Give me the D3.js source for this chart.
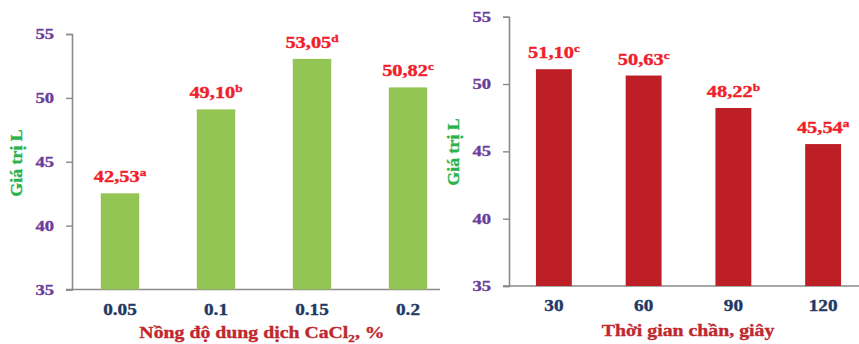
<!DOCTYPE html>
<html>
<head>
<meta charset="utf-8">
<script src="https://cdn.jsdelivr.net/npm/d3@7"></script>
<style>
  html, body { margin: 0; padding: 0; background: #fff; }
</style>
</head>
<body>
<svg id="chart" width="859" height="344"></svg>
<script>
// Panel 1: CaCl2 concentration
const concCategories = ["0.05", "0.1", "0.15", "0.2"];
const concValues = [42.53, 49.10, 53.05, 50.82];
const concLetters = ["a", "b", "d", "c"];

// Panel 2: blanching time
const timeCategories = ["30", "60", "90", "120"];
const timeValues = [51.10, 50.63, 48.22, 45.54];
const timeLetters = ["c", "c", "b", "a"];

const yTicks = [35, 40, 45, 50, 55];
const yTitle = "Giá trị L";

const svg = d3.select("#chart");
const root = svg.append("g")
  .attr("font-family", "Liberation Serif")
  .attr("font-weight", 700);
const fmt = v => d3.format(".2f")(v).replace(".", ",");
const stretch = 1.2;

function label(g, x, y, anchor, size, fill) {
  return g.append("text")
    .attr("transform", `translate(${x},${y}) scale(${stretch},1)`)
    .attr("text-anchor", anchor)
    .attr("font-family", "Liberation Serif")
    .attr("font-weight", 700)
    .attr("font-size", size)
    .attr("fill", fill)
    .attr("stroke", fill)
    .attr("stroke-width", 0.35);
}

function panel(opts) {
  const g = root.append("g");
  const y = d3.scaleLinear().domain([35, 55]).range([opts.bottom, opts.top]);
  const x = d3.scaleBand().domain(opts.categories).range([opts.left, opts.right]).paddingInner(0.6).paddingOuter(0.3);

  // y axis
  const ya = g.append("g").attr("transform", `translate(${opts.left},0)`)
    .call(d3.axisLeft(y).tickValues(yTicks).tickSize(6).tickFormat(""));
  ya.select(".domain").attr("stroke", "#8a8a8a").attr("stroke-width", 1.6);
  ya.selectAll(".tick line").attr("stroke", "#8a8a8a").attr("stroke-width", 1.4);
  yTicks.forEach(t => {
    label(g, opts.left - 18, y(t) + 5, "end", 15.5, "#6a3d9a").text(t);
  });

  // x baseline
  g.append("line")
    .attr("x1", opts.left - 6).attr("x2", opts.axisEnd)
    .attr("y1", y(35)).attr("y2", y(35))
    .attr("stroke", "#8a8a8a").attr("stroke-width", 1.6);

  // bars
  g.selectAll("rect.bar").data(opts.values).join("rect")
    .attr("class", "bar")
    .attr("x", (d, i) => x(opts.categories[i]))
    .attr("width", x.bandwidth())
    .attr("y", d => y(d))
    .attr("height", d => y(35) - y(d))
    .attr("fill", opts.color);

  // value labels with letter superscripts
  opts.values.forEach((v, i) => {
    const cx = x(opts.categories[i]) + x.bandwidth() / 2;
    const t = label(g, cx, y(v) - 11, "middle", 17, "#f0202a");
    t.append("tspan").text(fmt(v));
    t.append("tspan").attr("font-size", 11).attr("dy", -6).text(opts.letters[i]);
  });

  // category tick labels
  opts.categories.forEach(c => {
    label(g, x(c) + x.bandwidth() / 2, opts.tickY, "middle", 16, "#1f3864").text(c);
  });

  // axis titles
  const xt = label(g, opts.titleX, opts.titleY, "middle", 16.5, "#c0282e");
  opts.title(xt);

  g.append("text")
    .attr("transform", `translate(${opts.yTitleX},${opts.yTitleY}) rotate(-90) scale(1.05,1)`)
    .attr("text-anchor", "middle")
    .attr("font-family", "Liberation Serif")
    .attr("font-weight", 700)
    .attr("font-size", 17)
    .attr("fill", "#2bb24c")
    .attr("stroke", "#2bb24c")
    .attr("stroke-width", 0.35)
    .text(yTitle);
}

panel({
  categories: concCategories, values: concValues, letters: concLetters,
  color: "#92c553", left: 72, right: 456, top: 34, bottom: 289.5, axisEnd: 440,
  tickY: 315, titleX: 262, titleY: 338, yTitleX: 22, yTitleY: 163,
  title: t => {
    t.append("tspan").text("Nồng độ dung dịch CaCl");
    t.append("tspan").attr("font-size", 11).attr("dy", 4).text("2");
    t.append("tspan").attr("dy", -4).text(", %");
  }
});

panel({
  categories: timeCategories, values: timeValues, letters: timeLetters,
  color: "#be1e26", left: 509, right: 868, top: 16.7, bottom: 286, axisEnd: 859,
  tickY: 311, titleX: 688, titleY: 336, yTitleX: 459, yTitleY: 152,
  title: t => t.text("Thời gian chần, giây")
});
</script>
</body>
</html>
